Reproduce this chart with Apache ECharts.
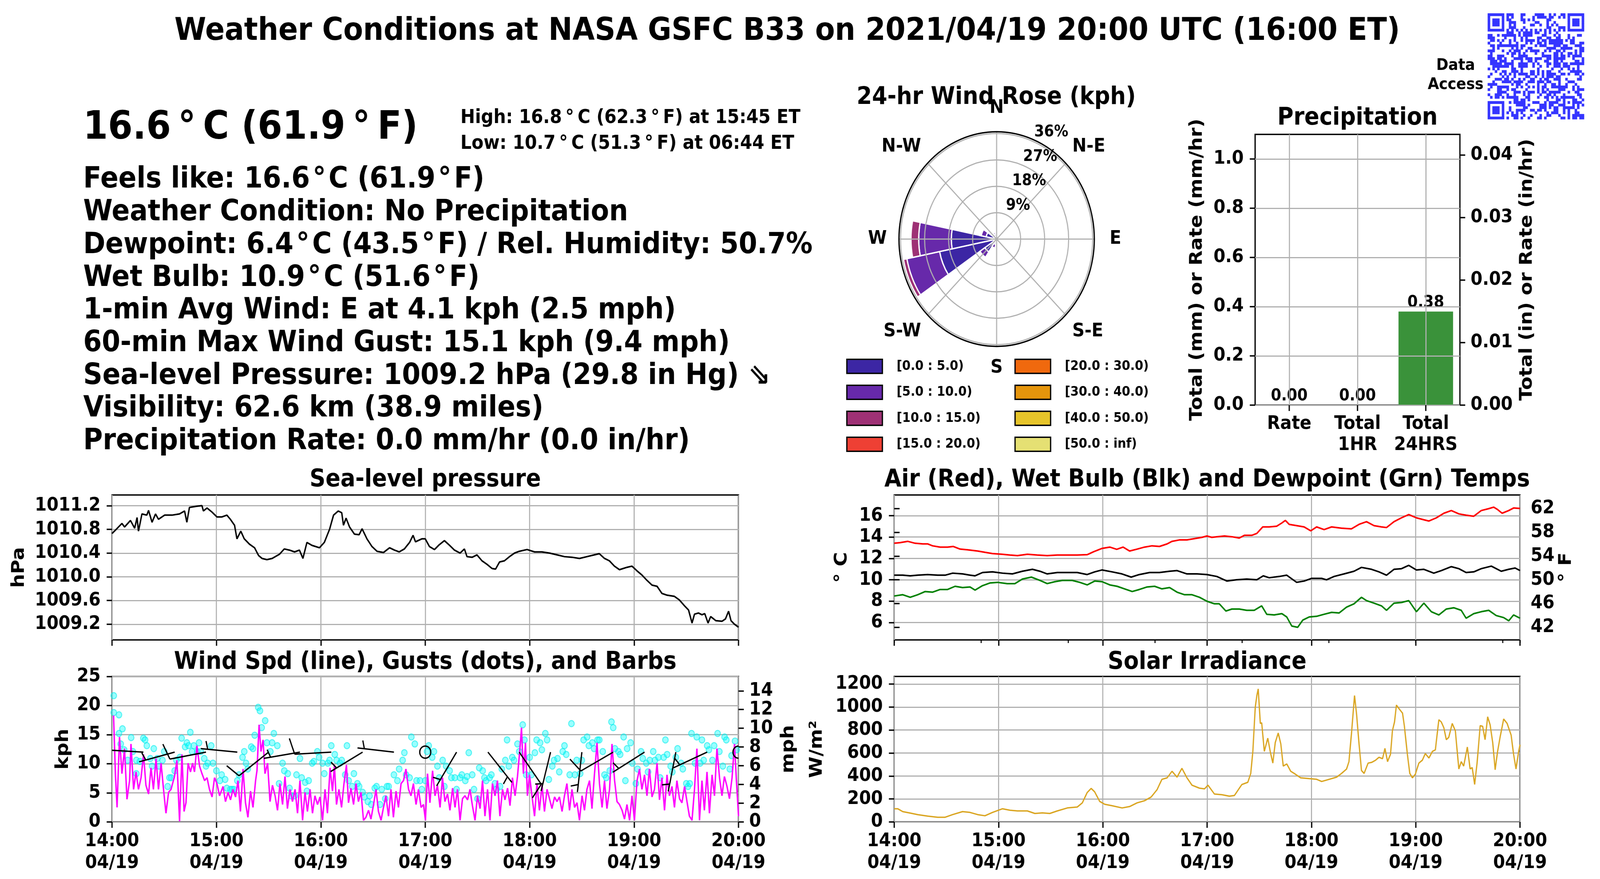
<!DOCTYPE html>
<html><head><meta charset="utf-8">
<script src="https://cdn.jsdelivr.net/npm/echarts@6.0.0/dist/echarts.min.js"></script>
<style>html,body{margin:0;padding:0;background:#fff;overflow:hidden}#wrap{overflow:hidden;position:relative}#c{width:4500px;height:2250px;transform-origin:0 0;position:absolute;left:0;top:0}</style>
</head><body><div id="wrap"><div id="c"></div></div>
<script>
// ---------------- TEXT ----------------
const titleText = 'Weather Conditions at NASA GSFC B33 on 2021/04/19 20:00 UTC (16:00 ET)';
const currentTemp = '16.6\u2009°\u2009C (61.9\u2009°\u2009F)';
const highText = 'High: 16.8\u2009°\u2009C (62.3\u2009°\u2009F) at 15:45 ET';
const lowText = 'Low: 10.7\u2009°\u2009C (51.3\u2009°\u2009F) at 06:44 ET';
const infoLines = [
  'Feels like: 16.6\u200a°\u200aC (61.9\u200a°\u200aF)',
  'Weather Condition: No Precipitation',
  'Dewpoint: 6.4\u200a°\u200aC (43.5\u200a°\u200aF) / Rel. Humidity: 50.7%',
  'Wet Bulb: 10.9\u200a°\u200aC (51.6\u200a°\u200aF)',
  '1-min Avg Wind: E at 4.1 kph (2.5 mph)',
  '60-min Max Wind Gust: 15.1 kph (9.4 mph)',
  'Sea-level Pressure: 1009.2 hPa (29.8 in Hg) \u21d8',
  'Visibility: 62.6 km (38.9 miles)',
  'Precipitation Rate: 0.0 mm/hr (0.0 in/hr)'
];
const dateLabel = '04/19';
const startHour = 14;

// ---------------- DATA (time = minutes after 14:00 UTC) ----------------
const pressure = [[0,1010.73],[1.4,1010.77],[5.7,1010.90],[7.2,1010.84],[10.6,1010.95],[13,1010.82],[14.4,1011.00],[15.2,1010.77],[17.2,1011.06],[20,1011.04],[21,1011.12],[23,1010.92],[25,1011.06],[26.7,1010.97],[30.2,1011.04],[34.5,1011.04],[38.8,1011.06],[41.7,1011.11],[43,1010.92],[44.5,1011.17],[48.8,1011.19],[51.7,1011.20],[52.5,1011.11],[54.6,1011.16],[57.5,1011.09],[60.3,1011.01],[63.2,1011.01],[66,1011.04],[68,1010.97],[70.4,1010.87],[71.8,1010.64],[74,1010.77],[76,1010.64],[79,1010.55],[81.9,1010.49],[84.2,1010.36],[86.2,1010.31],[89,1010.29],[92,1010.31],[96.2,1010.38],[99,1010.47],[102,1010.45],[104.9,1010.42],[107.7,1010.45],[109.7,1010.31],[112,1010.58],[114.9,1010.53],[119.2,1010.49],[122,1010.58],[125,1010.80],[127.3,1011.04],[130,1011.11],[132,1011.08],[133,1010.87],[134.5,1010.99],[136.5,1010.84],[139.3,1010.72],[142,1010.71],[143.7,1010.81],[146.5,1010.64],[149.4,1010.51],[152.3,1010.43],[156,1010.41],[159.5,1010.49],[162.3,1010.45],[165,1010.42],[168,1010.47],[171,1010.58],[173,1010.70],[174.4,1010.59],[178,1010.64],[180,1010.64],[182.4,1010.51],[185.3,1010.46],[188,1010.54],[191,1010.61],[194,1010.53],[196.8,1010.45],[200,1010.40],[202.5,1010.47],[204,1010.34],[207,1010.33],[209.7,1010.37],[212.6,1010.27],[215.5,1010.21],[218.4,1010.14],[220.4,1010.13],[222.7,1010.25],[225.5,1010.27],[228.4,1010.34],[231.3,1010.40],[234,1010.43],[238.5,1010.46],[242.8,1010.42],[247,1010.42],[251.4,1010.40],[255.7,1010.37],[260,1010.34],[264.3,1010.33],[268.6,1010.31],[272.9,1010.34],[277.2,1010.37],[280,1010.39],[283,1010.31],[285.8,1010.27],[288.7,1010.18],[291.6,1010.12],[295.9,1010.16],[298.8,1010.18],[301.7,1010.10],[304.5,1010.03],[307.4,1009.94],[310.3,1009.86],[313.2,1009.84],[316,1009.72],[319,1009.69],[323.2,1009.67],[326,1009.61],[329,1009.51],[331.3,1009.44],[333.3,1009.22],[334.7,1009.37],[337,1009.39],[339,1009.36],[340.6,1009.38],[342.5,1009.22],[344,1009.33],[347,1009.26],[350.5,1009.25],[352.5,1009.29],[354.3,1009.42],[355.7,1009.26],[357.7,1009.20],[360,1009.15]];

const airTemp = [[0,13.42],[3.4,13.48],[7.7,13.6],[12,13.42],[16.4,13.36],[19.2,13.36],[22,13.18],[26.4,13.06],[30.7,13.06],[34,13.12],[37.9,12.87],[42,12.81],[48,12.69],[52.2,12.57],[56.5,12.45],[62,12.39],[66.6,12.32],[70.9,12.26],[76.6,12.39],[82.3,12.32],[88,12.26],[93.8,12.32],[99.6,12.32],[105.3,12.32],[111,12.35],[114.8,12.63],[119.6,12.94],[124,13.06],[128,12.85],[131.7,13.06],[135.4,12.69],[139.7,12.87],[144,13.06],[148.3,13.18],[152.6,13.12],[157,13.36],[159.8,13.6],[164,13.73],[168.4,13.73],[172.7,13.85],[177,13.97],[179.9,14.1],[182.7,13.97],[185.6,14.03],[190,14.1],[194.2,14.03],[198.5,13.91],[201.4,14.16],[205.7,14.16],[208.6,14.34],[212,14.95],[215.7,14.95],[220,15.01],[223,15.32],[225,15.56],[227.2,15.19],[231.5,15.07],[235.8,14.95],[239.6,14.58],[243,14.95],[247.3,14.7],[251.6,14.95],[257.3,14.83],[263,14.77],[267.4,15.19],[271.7,15.44],[276,15.07],[280.3,14.95],[283.2,14.89],[287.5,15.44],[291.8,15.8],[296,16.11],[300.4,15.8],[304.7,15.62],[307.6,15.5],[311.9,15.8],[316.2,16.23],[320.5,16.48],[324.8,16.17],[329,16.05],[333.4,15.95],[337.7,16.48],[342,16.66],[344.9,16.8],[346.9,16.6],[349.7,16.23],[353.5,16.48],[356.3,16.72],[360,16.68]];

const wetBulb = [[0,10.43],[4.9,10.43],[9.2,10.37],[13.5,10.43],[19.2,10.49],[25,10.43],[29.3,10.43],[33.6,10.62],[39.3,10.55],[43.6,10.43],[46.5,10.37],[50.8,10.68],[56.5,10.74],[62.3,10.62],[68,10.55],[73.7,10.8],[79.5,10.98],[83.8,10.8],[88,10.55],[93.8,10.68],[99.6,10.68],[105.3,10.68],[111,10.49],[115.3,10.74],[119.6,10.92],[125.4,10.74],[131,10.55],[136.3,10.25],[141,10.49],[146.9,10.68],[152.6,10.68],[158.4,10.8],[162.7,10.86],[168.4,10.55],[174.2,10.55],[179.9,10.49],[185.6,10.31],[191.4,9.88],[197,10.0],[202.8,10.07],[208.6,10.0],[212.3,10.37],[215.7,10.19],[221.5,10.31],[225.8,10.43],[231.5,9.76],[235.8,9.88],[240,10.13],[245.9,10.13],[248.7,10.0],[253,10.31],[258.8,10.55],[264.5,10.8],[268.8,11.16],[274.6,10.98],[278.9,10.74],[283.2,10.43],[287.5,10.98],[291.8,11.04],[296,11.35],[300.4,10.92],[304.7,10.98],[310.4,10.62],[314.7,10.86],[320.5,11.23],[324.8,11.04],[329,10.68],[333.4,10.74],[337.7,11.04],[343.5,11.28],[349.2,10.8],[353.5,10.98],[357.2,11.1],[360,10.86]];

const dewPoint = [[0,8.48],[4.9,8.6],[9.2,8.36],[13.5,8.6],[17.8,8.9],[22,8.84],[26.4,9.09],[30.7,9.09],[35,9.39],[39.3,9.27],[43.6,9.33],[46.5,9.03],[50.8,9.45],[55,9.7],[59.4,9.76],[65,9.64],[69.4,9.64],[73.7,10.07],[78.9,10.25],[83.8,9.94],[88,9.64],[92.4,9.82],[96.7,9.94],[102.4,9.94],[106.7,9.76],[111,9.52],[115.3,9.88],[119.6,9.82],[124,9.52],[128.2,9.39],[132.5,9.15],[136.9,8.9],[141,9.09],[145.5,9.33],[149.8,9.39],[154,9.15],[158.4,9.27],[162.7,8.84],[167,8.6],[171.3,8.6],[175.6,8.36],[179.9,7.99],[184.2,7.75],[187,7.75],[190.8,7.07],[194.2,7.26],[198.5,7.26],[202.8,7.14],[207.1,7.14],[211.4,7.56],[214.3,6.77],[218.6,6.71],[223,6.83],[225.8,6.52],[228.7,5.67],[232.1,5.55],[235,6.22],[238.7,6.52],[243,6.58],[247.3,6.77],[251.6,6.95],[255.9,6.89],[260.2,7.44],[264.5,7.75],[268.8,8.36],[271.7,8.05],[276,7.81],[280.3,7.56],[283.2,7.14],[287.5,7.81],[291.8,7.87],[296,8.05],[300.4,7.01],[304.7,7.81],[309,7.01],[313.3,6.71],[317.6,7.26],[321.9,7.38],[326.2,7.14],[329,6.4],[333.4,6.83],[337.7,7.01],[342,7.14],[346.3,6.65],[350.6,6.46],[353.5,6.16],[356.3,6.71],[360,6.4]];

const solar = [[0,115],[2,115],[4.9,90],[9.2,77],[13.5,64],[19.2,51],[25,41],[29.3,41],[33.6,64],[39.3,90],[43.6,83],[48,64],[52.2,54],[56.5,83],[62.3,115],[66.6,102],[70.9,96],[76.6,96],[80.9,74],[85.2,79],[89.5,74],[93.8,96],[99.6,122],[105.3,130],[108.2,166],[111,256],[113.3,292],[115.3,262],[118.2,179],[121.1,154],[125.4,141],[131.1,122],[135.4,134],[139.7,166],[144,185],[147.8,217],[151.2,281],[154,371],[157,384],[159.8,441],[162.7,390],[165.5,467],[168.4,384],[171.3,320],[175.6,294],[178.5,288],[180.5,320],[184.2,243],[188.5,237],[192.8,224],[195.7,230],[200,326],[203.4,345],[205.1,422],[206.3,614],[207.7,998],[208.6,1100],[209.4,1158],[210.6,857],[211.4,863],[212.9,614],[214.9,729],[216.3,614],[217.8,512],[219.2,691],[220.9,774],[222.4,678],[223.8,486],[225.8,505],[228.1,441],[230.1,422],[233.8,384],[238.7,377],[243,371],[245.9,352],[250.2,371],[254.5,390],[257.3,422],[260.2,460],[261.6,525],[263.1,780],[264.8,1100],[266,934],[267.4,678],[268.8,448],[270.3,422],[272.6,512],[274.6,518],[276.9,537],[278.9,563],[280.9,550],[282.3,640],[283.8,525],[285.5,589],[286.6,793],[287.8,870],[288.9,1017],[290.4,985],[292.4,947],[293.5,832],[295.2,589],[296.6,422],[298.1,384],[299.8,416],[301.8,512],[303.8,537],[305.5,595],[307.6,556],[309.6,614],[311.3,627],[313.3,889],[314.7,870],[316.2,819],[317.6,716],[319,736],[321,857],[322.8,793],[324.8,461],[326.2,525],[327.6,486],[329.7,652],[331.3,461],[332.5,473],[333.9,326],[335.3,512],[337.1,838],[338.5,832],[339.9,716],[341.4,915],[342.8,845],[344.3,691],[345.7,454],[347.1,614],[348.6,742],[350.6,896],[352.6,857],[354.9,755],[356.3,589],[357.7,461],[359.2,614],[360,672]];

const windSpeed = [[0.9,18.3],[2.0,7.8],[2.9,2.5],[4.3,14.6],[5.7,8.3],[7.2,12.6],[8.6,3.9],[10.1,7.1],[10.9,13.4],[12.4,5.6],[13.8,8.6],[15.2,5.6],[16.7,7.6],[18.1,11.6],[19.5,6.3],[21.0,4.8],[22.4,9.3],[23.8,5.6],[25.3,10.9],[26.7,5.6],[28.2,10.1],[29.6,5.6],[31.0,1.5],[32.5,5.1],[33.9,5.6],[35.9,7.8],[37.3,10.6],[38.8,0.1],[40.2,11.6],[41.4,1.8],[42.5,3.3],[43.7,10.1],[45.1,8.6],[46.3,10.1],[47.4,8.6],[48.8,13.1],[50.3,9.6],[51.7,8.3],[53.2,7.1],[54.6,7.6],[56.0,5.6],[57.5,4.3],[58.9,7.6],[60.3,6.6],[61.8,4.5],[63.8,6.1],[65.2,3.5],[66.7,5.1],[68.1,3.8],[69.5,5.6],[71.0,4.3],[72.4,7.1],[73.8,1.8],[75.3,9.1],[76.7,3.3],[78.1,0.8],[79.6,5.3],[81.0,2.5],[82.5,7.1],[83.3,8.8],[84.5,16.7],[85.6,12.1],[86.8,14.1],[87.9,8.3],[89.4,10.1],[90.8,3.5],[92.2,6.3],[93.7,4.5],[95.1,2.0],[96.5,6.6],[98.0,3.0],[99.4,7.8],[100.8,2.3],[102.3,5.6],[103.7,3.5],[105.2,5.6],[106.6,1.5],[108.0,7.1],[109.5,0.3],[110.9,5.1],[112.3,1.8],[113.8,5.6],[115.2,1.5],[116.6,4.5],[118.1,3.0],[119.5,4.3],[121.0,0.3],[122.4,5.6],[123.8,1.5],[125.3,9.3],[126.7,5.3],[127.8,9.8],[129.0,3.0],[130.4,5.6],[131.9,2.5],[133.3,6.6],[134.7,9.8],[135.9,3.3],[137.3,5.8],[138.8,3.0],[140.2,6.6],[141.6,3.5],[143.1,5.1],[144.5,0.3],[145.9,0.8],[147.4,2.0],[148.8,0.5],[150.3,3.0],[151.7,5.6],[153.1,1.8],[154.6,0.3],[156.0,2.5],[157.4,4.5],[158.9,1.0],[160.3,5.6],[161.7,0.8],[163.2,5.3],[164.6,2.5],[166.1,6.6],[167.5,7.1],[168.9,9.1],[170.4,5.6],[171.8,4.5],[173.2,6.6],[174.7,3.0],[176.1,5.6],[177.6,2.5],[179.0,3.0],[180.1,0.3],[181.3,8.3],[182.7,3.3],[184.2,8.8],[185.6,4.5],[187.0,6.3],[188.5,2.5],[189.9,7.6],[191.3,3.5],[192.8,4.8],[194.2,2.0],[195.7,5.8],[197.1,2.5],[198.5,5.6],[200.0,0.3],[201.4,4.0],[202.8,4.5],[204.3,3.8],[205.7,5.6],[207.1,2.8],[208.6,0.3],[210.0,4.5],[211.5,2.3],[212.9,7.1],[214.3,1.0],[215.8,5.6],[217.2,0.3],[218.6,6.6],[220.1,4.5],[221.5,7.1],[222.9,1.0],[224.4,5.6],[225.8,3.8],[227.3,5.8],[228.7,2.8],[230.1,7.6],[231.6,4.5],[233.0,7.8],[234.4,12.6],[235.3,16.2],[236.4,8.3],[237.6,13.6],[238.7,4.5],[239.9,8.1],[241.3,4.5],[242.8,1.0],[244.2,6.6],[245.6,2.0],[247.1,6.3],[248.5,1.8],[250.0,5.6],[251.4,4.0],[252.8,2.3],[254.3,4.3],[255.7,3.5],[257.1,4.3],[258.6,1.8],[260.0,4.5],[261.4,6.6],[262.9,2.0],[264.3,5.6],[265.8,2.5],[267.2,3.3],[268.6,0.3],[270.1,4.5],[271.5,2.0],[272.9,5.6],[274.4,7.1],[275.8,2.3],[277.2,8.1],[278.7,13.6],[280.1,6.6],[281.6,2.5],[283.0,7.1],[284.4,2.3],[285.9,5.6],[287.3,13.4],[288.8,7.1],[290.2,3.5],[291.6,3.0],[293.1,2.0],[294.5,0.5],[295.9,3.0],[297.4,0.3],[298.8,4.5],[300.2,0.3],[301.7,7.1],[303.1,9.1],[304.5,5.6],[306.0,8.1],[307.4,4.5],[308.8,9.1],[310.3,4.3],[311.7,5.6],[313.2,10.1],[314.6,3.8],[316.0,7.6],[317.5,2.0],[318.9,8.1],[320.3,4.5],[321.8,6.1],[323.2,2.5],[324.6,7.1],[326.1,4.0],[327.5,3.3],[329.0,6.1],[330.4,3.5],[331.8,1.0],[333.3,0.3],[334.7,5.6],[336.1,12.6],[337.6,0.3],[339.0,7.1],[340.4,2.0],[341.9,8.6],[343.3,1.5],[344.8,8.1],[346.2,4.5],[347.6,12.6],[349.1,7.6],[350.5,4.5],[351.9,7.8],[353.4,6.1],[354.8,4.0],[356.3,7.6],[357.7,13.4],[358.8,7.1],[360.0,1.0]];

const windGust = [[1,21.7],[1,18.8],[4,18.4],[6,16.0],[4,15.2],[5,13.4],[7,12.4],[9,10.6],[11,14.5],[12,12.1],[14,10.6],[14,8.3],[16,10.4],[18,14.4],[19,14.1],[20,13.1],[22,10.9],[23,9.6],[24,12.6],[26,10.9],[27,9.6],[29,10.6],[30,12.1],[32,6.1],[33,7.6],[34,7.6],[36,8.8],[37,10.6],[39,11.1],[40,14.4],[42,12.9],[43,13.6],[44,13.1],[45,15.4],[46,12.1],[47,13.1],[49,12.1],[50,13.6],[51,12.1],[53,10.9],[54,9.6],[55,10.1],[57,13.1],[58,10.1],[60,8.8],[62,7.1],[63,8.1],[65,7.3],[66,5.8],[68,5.6],[69,5.6],[70,5.6],[72,7.1],[73,8.1],[75,11.1],[76,12.1],[77,10.1],[78,9.1],[80,12.9],[81,12.6],[82,14.9],[84,19.7],[85,19.1],[86,16.2],[88,17.4],[89,13.6],[91,12.1],[92,13.6],[93,15.2],[95,13.1],[96,6.6],[98,10.1],[99,8.8],[101,8.3],[102,5.8],[103,4.5],[105,4.5],[106,8.1],[108,10.9],[109,7.6],[111,6.8],[112,5.3],[113,7.1],[115,10.1],[116,10.4],[118,12.1],[119,11.1],[121,10.1],[122,8.3],[124,10.1],[125,10.6],[126,13.1],[128,11.6],[129,10.6],[131,10.1],[132,10.6],[134,8.1],[135,13.1],[136,7.1],[138,6.1],[139,8.3],[141,6.6],[142,6.1],[144,5.1],[145,4.3],[147,3.5],[148,4.5],[149,3.0],[151,5.8],[152,6.1],[154,3.0],[155,5.6],[157,4.0],[158,6.1],[159,6.1],[162,8.1],[164,7.1],[165,9.1],[167,10.6],[168,11.9],[169,8.1],[171,7.6],[172,14.6],[174,13.4],[175,7.1],[177,7.1],[178,5.6],[180,7.1],[181,12.1],[182,13.1],[184,11.1],[185,12.1],[187,9.6],[188,7.6],[190,10.6],[191,6.1],[192,9.6],[194,8.8],[195,7.6],[197,7.6],[198,5.6],[200,7.6],[201,8.1],[203,7.1],[204,7.8],[205,11.9],[207,8.1],[208,5.6],[210,4.0],[211,9.3],[213,8.8],[214,7.6],[215,7.1],[217,7.6],[218,8.1],[220,6.6],[221,5.6],[223,6.1],[224,9.1],[226,10.6],[227,14.1],[228,9.6],[230,11.1],[231,10.6],[233,13.4],[234,12.1],[236,16.7],[237,14.1],[238,8.1],[240,11.1],[241,8.1],[243,11.9],[244,14.1],[246,13.6],[247,12.4],[249,15.2],[250,14.1],[251,7.3],[253,9.6],[254,10.6],[256,10.9],[257,8.6],[259,12.1],[260,13.1],[261,11.6],[263,8.1],[264,16.9],[266,8.1],[267,10.6],[269,8.3],[270,10.6],[271,14.1],[273,14.6],[274,13.1],[276,13.6],[277,12.6],[279,14.1],[280,14.1],[282,12.1],[283,8.1],[284,7.6],[286,8.8],[287,17.2],[288,16.2],[289,12.6],[291,12.1],[292,11.6],[294,14.6],[295,7.1],[296,12.6],[298,13.6],[299,10.1],[301,6.6],[302,9.1],[304,12.1],[305,10.9],[307,10.1],[308,8.6],[309,10.6],[311,12.1],[312,10.6],[314,11.1],[315,7.6],[317,11.1],[318,14.1],[319,11.6],[321,9.6],[322,8.6],[324,11.1],[325,12.6],[327,10.1],[328,9.1],[330,6.6],[331,6.1],[332,6.6],[333,15.2],[335,10.1],[336,14.6],[338,10.1],[339,14.1],[340,10.6],[342,13.1],[343,12.4],[345,10.6],[346,13.1],[348,15.2],[349,12.1],[351,9.6],[352,14.6],[353,14.1],[355,9.1],[356,11.4],[358,13.9],[359,12.4]];

// wind barbs every 18 minutes: direction wind comes from (deg) and speed (kph)
const barbT   = [0,18,36,54,72,90,108,126,144,162,180,198,216,234,252,270,288,306,324,342,360];
const barbDir = [270,273,256,260,275,234,261,267,241,276,0,213,139,143,195,187,242,240,192,247,0];
const barbSpd = [5,10,5,10,5,10,5,10,5,5,0,5,5,10,5,5,10,5,5,5,0];
const barbY = 12;

// wind rose (% of time) by direction and speed bin
const roseDirs = ['N','NNE','NE','ENE','E','ESE','SE','SSE','S','SSW','SW','WSW','W','WNW','NW','NNW'];
const roseBins = ['[0.0 : 5.0)','[5.0 : 10.0)','[10.0 : 15.0)','[15.0 : 20.0)','[20.0 : 30.0)','[30.0 : 40.0)','[40.0 : 50.0)','[50.0 : inf)'];
const rose0_5   = [0,0,0,0,0,0,0,0,0.6,1.8,5.3,21.8,17.0,4.0,0,1.8];
const rose5_10  = [0,0,0,0,0,0,0,0,0,1.3,2.2,12.5,12.2,1.9,0,0.6];
const rose10_15 = [0,0,0,0,0,0,0,0,0,0,0,1.3,2.9,0.4,0,0];
const rose15_20 = [0,0,0,0,0,0,0,0,0,0,0,0,0,0,0,0];
const rose20_30 = [0,0,0,0,0,0,0,0,0,0,0,0,0,0,0,0];
const rose30_40 = [0,0,0,0,0,0,0,0,0,0,0,0,0,0,0,0];
const rose40_50 = [0,0,0,0,0,0,0,0,0,0,0,0,0,0,0,0];
const rose50_inf= [0,0,0,0,0,0,0,0,0,0,0,0,0,0,0,0];
const roseMax = 36.6;

// precipitation
const precipCats = ['Rate', 'Total\n1HR', 'Total\n24HRS'];
const precipMm = [0.00, 0.00, 0.38];

// axis ranges and tick labels
const pressRange = [1008.936, 1011.38];
const pressTicks = [1009.2, 1009.6, 1010.0, 1010.4, 1010.8, 1011.2];
const windMax = 25;
const mphTicks = [0,2,4,6,8,10,12,14];
const tempRange = [4.37, 17.94];
const tempCTicks = [6,8,10,12,14,16];
const tempFTicks = [42,46,50,54,58,62];
const solarMax = 1266;
const solarTicks = [0,200,400,600,800,1000,1200];
const precipMax = 1.1;
const precipMmTicks = [0,0.2,0.4,0.6,0.8,1.0];
const precipInTicks = [0,0.01,0.02,0.03,0.04];

// ---------------- PAGE FIT (design space 4500 x 2250 stretched to the viewport) ----------------
const W = 4500, H = 2250;
const vw = document.documentElement.clientWidth || window.innerWidth || W;
const vh = document.documentElement.clientHeight || window.innerHeight || H;
const kx = vw / W, ky = vh / H;
const wrap = document.getElementById('wrap');
wrap.style.width = vw + 'px'; wrap.style.height = vh + 'px';
const host = document.getElementById('c');
host.style.transform = 'scale(' + kx + ',' + ky + ')';

// ---------------- STYLE ----------------
const F = 'DejaVu Sans';
const GRAY = '#b0b0b0';
const roseColors = ['#3c26a4','#6729aa','#9e3175','#ee4034','#f0690e','#e5950c','#e6c42a','#e5e073'];

function fmtTime(v){ const h = startHour + Math.floor(v/60); const m = Math.round(v % 60); return h + ':' + String(m).padStart(2,'0') + '\n' + dateLabel; }
const tickStyle = () => ({show:true, length:15, lineStyle:{color:'#000', width:3.5}});
const lab = (extra) => Object.assign({fontFamily:F, fontWeight:'bold', fontSize:48, color:'#000'}, extra || {});
const nameStyle = {fontFamily:F, fontWeight:'bold', fontSize:50, color:'#000'};
const split = () => ({show:true, lineStyle:{color:GRAY, width:3}});

const gridBox = {show:true, borderColor:'#000', borderWidth:3.5, backgroundColor:'rgba(0,0,0,0)'};
const grids = [
  Object.assign({left:315, top:1267, width:1762, height:371}, gridBox),
  Object.assign({left:315, top:1731.5, width:1762, height:372.5}, gridBox),
  Object.assign({left:2515, top:1267, width:1760, height:371}, gridBox),
  Object.assign({left:2515, top:1731.5, width:1760, height:372.5}, gridBox),
  Object.assign({left:3530, top:344, width:576, height:693}, gridBox)
];

function timeX(gi, showLabels){
  return {type:'value', gridIndex:gi, min:0, max:360, interval:60, axisLine:{show:false},
    axisTick:tickStyle(), axisLabel:lab({show:showLabels, margin:22, lineHeight:56, formatter:fmtTime}),
    splitLine:split()};
}
function yVal(gi, o){
  const base = {type:'value', gridIndex:gi, axisLine:{show:false}, axisTick:tickStyle(), axisLabel:lab({margin:32, formatter: v => String(v)}),
    splitLine:split(), nameLocation:'middle', nameRotate:90, nameTextStyle:nameStyle};
  const r = Object.assign(base, o);
  if (o.ticks){ r.axisTick.customValues = o.ticks; r.axisLabel.customValues = o.ticks; delete r.ticks; }
  if (o.fmt){ r.axisLabel.formatter = o.fmt; delete r.fmt; }
  if (o.right){ r.position = 'right'; r.splitLine = {show:false}; r.axisLabel.margin = 30; delete r.right; }
  return r;
}
const c2f = c => c*1.8+32;

// barbs
function renderBarb(params, api){
  const t = api.value(0), y = api.value(1), dir = api.value(2), spd = api.value(3);
  const b = api.coord([t, y]);
  const L = 103;
  const st = {stroke:'#000', lineWidth:3.5, fill:'none'};
  if (spd < 2.5) return {type:'circle', shape:{cx:b[0], cy:b[1], r:15.5}, style:st};
  const th = dir*Math.PI/180;
  const d = [Math.sin(th), -Math.cos(th)];
  const p = [-d[1], d[0]];
  const kids = [{type:'line', shape:{x1:b[0], y1:b[1], x2:b[0]+L*d[0], y2:b[1]+L*d[1]}, style:st}];
  const r = Math.round(spd/5)*5;
  const nFull = Math.floor(r/10), half = (r % 10) >= 5;
  const sp = 0.125*L; let off = L;
  for (let i=0;i<nFull;i++){
    const P = [b[0]+off*d[0], b[1]+off*d[1]];
    kids.push({type:'line', shape:{x1:P[0], y1:P[1], x2:P[0]+0.4*L*p[0]+sp*d[0], y2:P[1]+0.4*L*p[1]+sp*d[1]}, style:st});
    off -= sp;
  }
  if (half){
    if (nFull === 0) off = L - 1.5*sp;
    const P = [b[0]+off*d[0], b[1]+off*d[1]];
    kids.push({type:'line', shape:{x1:P[0], y1:P[1], x2:P[0]+0.2*L*p[0]+0.5*sp*d[0], y2:P[1]+0.2*L*p[1]+0.5*sp*d[1]}, style:st});
  }
  return {type:'group', children:kids};
}

// decorative QR-style code block
function qrRects(x0, y0, size, n, color){
  const cell = size/n; const m = []; let s = 2021041920;
  for (let r=0;r<n;r++){ m.push([]); for (let c=0;c<n;c++){ s = (s*48271) % 2147483647; m[r].push((s % 100) < 48); } }
  const fp = (r0,c0) => { for (let r=-1;r<=7;r++) for (let c=-1;c<=7;c++){ const rr=r0+r, cc=c0+c; if (rr<0||cc<0||rr>=n||cc>=n) continue;
      const inside = r>=0&&r<=6&&c>=0&&c<=6; const edge = r===0||r===6||c===0||c===6; const core = r>=2&&r<=4&&c>=2&&c<=4; m[rr][cc] = inside && (edge||core); } };
  fp(0,0); fp(0,n-7); fp(n-7,0);
  for (let i=8;i<n-8;i++){ m[6][i] = i%2===0; m[i][6] = i%2===0; }
  for (let r=-2;r<=2;r++) for (let c=-2;c<=2;c++) m[n-7+r][n-7+c] = Math.max(Math.abs(r),Math.abs(c)) !== 1;
  const out = [];
  for (let r=0;r<n;r++){ let c=0; while (c<n){ if (m[r][c]){ let c2=c; while (c2<n && m[r][c2]) c2++;
      out.push({type:'rect', shape:{x:x0+c*cell, y:y0+r*cell, width:(c2-c)*cell+0.6, height:cell+0.6}, style:{fill:color}}); c=c2; } else c++; } }
  return out;
}

const T = (x, y, text, size, align) => ({type:'text', x:x, y:y, z:100,
  style:{text:text, font:'bold ' + size + 'px "DejaVu Sans"', fill:'#000', align:align || 'left', verticalAlign:'middle'}});

const graphics = [
  T(2214, 81, titleText, 81, 'center'),
  T(234, 329, currentTemp, 100),
  T(1295, 302, highText, 49),
  T(1295, 368, lowText, 49),
  T(1196, 1229, 'Sea-level pressure', 62, 'center'),
  T(3395, 1229, 'Air (Red), Wet Bulb (Blk) and Dewpoint (Grn) Temps', 62, 'center'),
  T(1196, 1696, 'Wind Spd (line), Gusts (dots), and Barbs', 62, 'center'),
  T(3395, 1696, 'Solar Irradiance', 62, 'center'),
  T(3818, 303, 'Precipitation', 62, 'center'),
  T(2802, 250, '24-hr Wind Rose (kph)', 62, 'center'),
  T(4094, 168, 'Data', 41, 'center'),
  T(4094, 217, 'Access', 41, 'center'),
  {type:'group', z:100, children: qrRects(4184, 34, 271, 41, '#3535ff')}
];
infoLines.forEach((s, i) => graphics.push(T(234, 461 + i*83.7, s, 75)));

const roseData = [rose0_5, rose5_10, rose10_15, rose15_20, rose20_30, rose30_40, rose40_50, rose50_inf];
const dirDisplay = {N:'N', NE:'N-E', E:'E', SE:'S-E', S:'S', SW:'S-W', W:'W', NW:'N-W'};
const dirKey = {N:'n', E:'e', S:'s', W:'w'};
const roseCenter = [2803, 612], roseR = 274.7;
const dirFont = {fontFamily:F, fontWeight:'bold', fontSize:48, color:'#000'};

const option = {
  animation:false,
  backgroundColor:'#fff',
  textStyle:{fontFamily:F},
  graphic: graphics,
  grid: grids,
  xAxis: [
    timeX(0,false), timeX(1,true), timeX(2,false),
    {type:'value', gridIndex:2, position:'bottom', min:0, max:360, interval:50, axisLine:{show:false},
      axisTick:{show:true, length:8, lineStyle:{color:'#000', width:3}}, axisLabel:{show:false}, splitLine:{show:false}},
    timeX(3,true),
    {type:'category', gridIndex:4, data:precipCats, z:5, axisLine:{show:false},
      axisTick:{show:true, interval:0, alignWithLabel:true, length:15, lineStyle:{color:'#000', width:3.5}},
      axisLabel:lab({interval:0, margin:22, lineHeight:54}),
      splitLine:{show:true, interval:0, alignWithLabel:true, lineStyle:{color:GRAY, width:3}}}
  ],
  yAxis: [
    yVal(0, {min:pressRange[0], max:pressRange[1], ticks:pressTicks, fmt:v=>v.toFixed(1), name:'hPa', nameGap:236}),
    yVal(1, {min:0, max:windMax, interval:5, name:'kph', nameGap:112}),
    yVal(1, {min:0, max:windMax/1.609344, ticks:mphTicks, right:true, name:'mph', nameGap:116}),
    yVal(2, {min:tempRange[0], max:tempRange[1], ticks:tempCTicks, name:'° C', nameGap:122}),
    yVal(2, {min:c2f(tempRange[0]), max:c2f(tempRange[1]), ticks:tempFTicks, right:true, name:'° F', nameGap:105}),
    yVal(3, {min:0, max:solarMax, ticks:solarTicks, name:'W/m²', nameGap:192}),
    yVal(4, {min:0, max:precipMax, ticks:precipMmTicks, fmt:v=>v.toFixed(1), name:'Total (mm) or Rate (mm/hr)', nameGap:138, z:5}),
    yVal(4, {min:0, max:precipMax/25.4, ticks:precipInTicks, fmt:v=>v.toFixed(2), right:true, name:'Total (in) or Rate (in/hr)', nameGap:164, z:5})
  ],
  polar: [
    {center:roseCenter, radius:roseR},
    {center:roseCenter, radius:roseR},
    {center:[2832, 589.5], radius:[0, 285]}
  ],
  angleAxis: [
    {polarIndex:0, type:'category', data:roseDirs, startAngle:101.25, clockwise:true, boundaryGap:true,
      axisLine:{show:false}, axisTick:{show:false}, splitLine:{show:false},
      axisLabel:{show:true, interval:0, margin:26, fontFamily:F, fontWeight:'bold', fontSize:48, color:'#000',
        formatter: v => { const s = dirDisplay[v]; if (!s) return ''; return '{' + (dirKey[s] || 'd') + '|' + s + '}'; },
        rich:{
          n:Object.assign({padding:[0,0,11,0]}, dirFont),
          e:Object.assign({padding:[0,0,0,17]}, dirFont),
          s:Object.assign({padding:[5,0,0,0]}, dirFont),
          w:Object.assign({padding:[0,8,0,0]}, dirFont),
          d:Object.assign({}, dirFont)
        }}},
    {polarIndex:1, type:'value', min:0, max:360, interval:45, startAngle:90, clockwise:true, z:5,
      axisLine:{show:true, lineStyle:{color:'#000', width:3.5}}, axisTick:{show:false}, axisLabel:{show:false},
      splitLine:{show:true, lineStyle:{color:GRAY, width:3}}},
    {polarIndex:2, type:'value', min:0, max:360, startAngle:63.6, show:false}
  ],
  radiusAxis: [
    {polarIndex:0, type:'value', min:0, max:roseMax, show:false},
    {polarIndex:1, type:'value', min:0, max:roseMax, interval:9, z:5, axisLine:{show:false}, axisTick:{show:false}, axisLabel:{show:false},
      splitLine:{show:true, lineStyle:{color:GRAY, width:3}}},
    {polarIndex:2, type:'value', min:0, max:roseMax, interval:9, z:6, axisLine:{show:false}, axisTick:{show:false}, splitLine:{show:false},
      axisLabel:{show:true, margin:0, align:'center', verticalAlign:'middle', fontFamily:F, fontWeight:'bold', fontSize:40, color:'#000',
        formatter: v => (v > 0 && Math.abs(v % 9) < 1e-6) ? (v + '%') : ''}}
  ],
  legend: [
    {data:roseBins.slice(0,4), orient:'vertical', left:2380, top:918, padding:0, itemWidth:100, itemHeight:36, itemGap:27, icon:'rect',
      itemStyle:{borderColor:'#000', borderWidth:3.5}, selectedMode:false,
      textStyle:{fontFamily:F, fontWeight:'bold', fontSize:34, color:'#000', padding:[0,0,0,35]}},
    {data:roseBins.slice(4), orient:'vertical', left:2853, top:918, padding:0, itemWidth:100, itemHeight:36, itemGap:27, icon:'rect',
      itemStyle:{borderColor:'#000', borderWidth:3.5}, selectedMode:false,
      textStyle:{fontFamily:F, fontWeight:'bold', fontSize:34, color:'#000', padding:[0,0,0,35]}}
  ],
  series: [
    {type:'line', xAxisIndex:0, yAxisIndex:0, data:pressure, symbol:'none', lineStyle:{color:'#000', width:4}, z:3},
    {type:'scatter', xAxisIndex:1, yAxisIndex:1, data:windGust, symbolSize:16,
      itemStyle:{color:'rgba(0,255,255,0.5)', borderColor:'rgba(0,235,235,0.75)', borderWidth:2.5}, z:2},
    {type:'line', xAxisIndex:1, yAxisIndex:1, data:windSpeed, symbol:'none', lineStyle:{color:'#ff00ff', width:4}, z:3},
    {type:'custom', xAxisIndex:1, yAxisIndex:1, clip:true, z:4, renderItem:renderBarb,
      dimensions:['t','y','dir','spd'], encode:{x:0, y:1},
      data: barbT.map((t,i) => [t, barbY, barbDir[i], barbSpd[i]])},
    {type:'line', xAxisIndex:2, yAxisIndex:3, data:airTemp, symbol:'none', lineStyle:{color:'#ff0000', width:4}, z:3},
    {type:'line', xAxisIndex:2, yAxisIndex:3, data:wetBulb, symbol:'none', lineStyle:{color:'#000000', width:4}, z:3},
    {type:'line', xAxisIndex:2, yAxisIndex:3, data:dewPoint, symbol:'none', lineStyle:{color:'#008000', width:4}, z:3},
    {type:'line', xAxisIndex:4, yAxisIndex:5, data:solar, symbol:'none', lineStyle:{color:'#daa520', width:3.5}, z:3},
    {type:'bar', xAxisIndex:5, yAxisIndex:6, data:precipMm, barWidth:'80%', itemStyle:{color:'#3a923a'}, z:2,
      label:{show:true, position:'top', distance:2, formatter:p => p.value.toFixed(2), fontFamily:F, fontWeight:'bold', fontSize:42, color:'#000'}}
  ].concat(roseBins.map((name, i) => ({
    type:'bar', name:name, coordinateSystem:'polar', polarIndex:0, stack:'rose', barCategoryGap:'0%', z:2,
    data: roseData[i].map(v => v === 0 ? '-' : v),
    itemStyle:{color:roseColors[i], borderColor:'#fff', borderWidth:3.5}
  })))
};

const chart = echarts.init(host, null, {renderer:'canvas', devicePixelRatio: Math.max(1, Math.max(kx, ky)*(window.devicePixelRatio||1))});
chart.setOption(option);
</script></body></html>
